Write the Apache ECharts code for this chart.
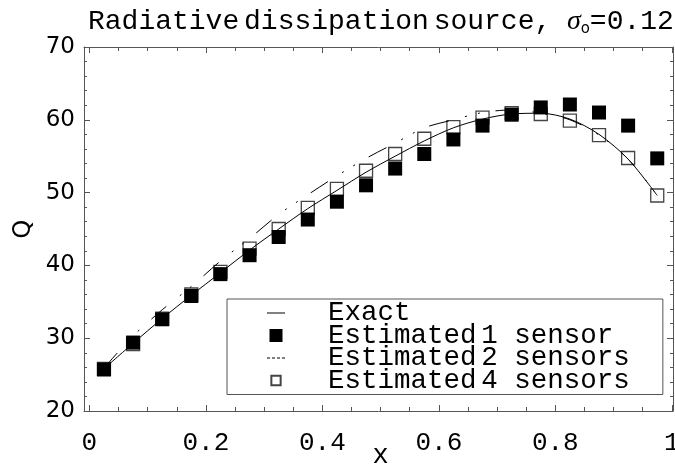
<!DOCTYPE html>
<html><head><meta charset="utf-8">
<script src="https://cdn.jsdelivr.net/npm/echarts@6/dist/echarts.min.js"></script>
<style>html,body{margin:0;padding:0;background:#fff}#c{width:675px;height:469px}</style>
</head><body><div id="c"></div>
<script>
const xs = [0.025,0.075,0.125,0.175,0.225,0.275,0.325,0.375,0.425,0.475,0.525,0.575,0.625,0.675,0.725,0.775,0.825,0.875,0.925,0.975];
const exact = [25.8,29.3,32.7,35.9,39.0,42.1,45.0,47.8,50.3,52.8,55.0,57.1,58.9,60.1,60.8,60.9,60.1,58.0,54.6,49.6];
const est1 = [25.7,29.4,32.6,35.8,38.8,41.4,43.9,46.3,48.75,51.0,53.3,55.3,57.3,59.2,60.7,61.7,62.1,61.0,59.2,54.7];
const est2 = [25.9,30.3,33.9,37.1,40.6,43.7,47.0,49.7,52.3,54.7,56.8,58.9,60.0,61.0,61.35,60.9,60.0,57.9,54.6,49.6];
const est4 = [25.8,29.2,32.7,36.0,39.1,42.3,45.0,47.9,50.5,53.0,55.3,57.4,59.0,60.3,60.9,60.8,59.9,57.9,54.75,49.6];
const xTicks = [0,0.2,0.4,0.6,0.8,1];
const yTicks = [20,30,40,50,60,70];
const names = ['Exact','Estimated 1 sensor','Estimated 2 sensors','Estimated 4 sensors'];

const pairs = a => xs.map((x,i)=>[x,a[i]]);
const MONO = 'Liberation Mono';
const AX = '#555';

const chart = echarts.init(document.getElementById('c'), null, {renderer:'canvas'});
const frameAxis = (pos) => ({
  type:'value', gridIndex:0, position:pos, min:0, max:1,
  axisLine:{show:true,onZero:false,lineStyle:{color:AX,width:1}},
  axisTick:{show:false}, axisLabel:{show:false}, splitLine:{show:false}
});
const tickX = (pos, labels) => ({
  type:'value', gridIndex:1, position:pos, min:0, max:1, interval:0.2,
  axisLine:{show:false,onZero:false},
  axisTick:{show:true,inside:true,length:6,lineStyle:{color:AX}},
  minorTick:{show:true,splitNumber:4,length:4,lineStyle:{color:AX}},
  axisLabel:{show:labels,margin:19,fontFamily:MONO,fontSize:26,color:'#000',
    formatter:v=>xTicks.includes(+v.toFixed(2))?String(+v.toFixed(2)):''},
  splitLine:{show:false},
  name: labels?'x':'', nameLocation:'middle', nameGap:31, nameMoveOverlap:false,
  nameTextStyle:{fontFamily:MONO,fontSize:27,color:'#000'}
});
const yAx = (pos, labels) => ({
  type:'value', gridIndex:0, position:pos, min:20, max:70, interval:10,
  axisLine:{show:true,onZero:false,lineStyle:{color:AX,width:1}},
  axisTick:{show:true,inside:true,length:6,lineStyle:{color:AX}},
  minorTick:{show:true,splitNumber:5,length:3,lineStyle:{color:AX}},
  axisLabel:{show:labels,margin:9,fontFamily:'DejaVu Sans',fontSize:23,color:'#000',
    formatter:v=>yTicks.includes(v)?String(v):''},
  splitLine:{show:false},
  name: labels?'Q':'', nameLocation:'middle', nameGap:48, nameRotate:90, nameMoveOverlap:false,
  nameTextStyle:{fontFamily:'DejaVu Sans',fontSize:24,color:'#000'}
});

function legendFmt(name){
  const m = name.match(/^Estimated (.*)$/);
  if (m) return '{g| }{t|Estimated}{s| }{t|' + m[1] + '}';
  return '{g| }{t|' + name + '}';
}

chart.setOption({
  animation:false,
  backgroundColor:'#fff',
  title:{
    left:83, top:2,
    text:'{a|Radiative}{s| }{a|dissipation}{s| }{a|source,}{w| }{g|σ}{sub|o}{a|=0.12}',
    textStyle:{
      fontWeight:'normal',
      rich:{
        a:{fontFamily:MONO,fontSize:28,fontWeight:'normal',color:'#000',lineHeight:30},
        s:{fontFamily:MONO,fontSize:8,fontWeight:'normal',lineHeight:30},
        w:{fontFamily:MONO,fontSize:26,fontWeight:'normal',lineHeight:30},
        g:{fontFamily:'Liberation Serif',fontStyle:'italic',fontWeight:'normal',fontSize:28,color:'#000',lineHeight:30},
        sub:{fontFamily:'DejaVu Sans',fontSize:15,fontWeight:'normal',color:'#000',lineHeight:30,verticalAlign:'bottom',padding:[10,0,0,0]}
      }
    }
  },
  grid:[
    {left:84,right:2,top:47,bottom:58,outerBoundsMode:'none',containLabel:false},
    {left:89.4,right:3.2,top:47,bottom:58,outerBoundsMode:'none',containLabel:false}
  ],
  xAxis:[frameAxis('bottom'), frameAxis('top'), tickX('bottom',true), tickX('top',false)],
  yAxis:[yAx('left',true), yAx('right',false),
    {type:'value',gridIndex:1,min:20,max:70,show:false}],
  legend:{
    orient:'vertical', left:227, top:299,
    padding:[0,33,0,40], itemGap:-5.5,
    itemWidth:18, itemHeight:13,
    backgroundColor:'#fff', borderColor:AX, borderWidth:1,
    formatter:legendFmt,
    textStyle:{color:'#000',fontFamily:MONO,fontSize:27.5,lineHeight:21,
      rich:{
        g:{width:38,fontSize:10},
        t:{fontFamily:MONO,fontSize:27.5,color:'#000',lineHeight:21},
        s:{fontFamily:MONO,fontSize:8,lineHeight:21}
      }},
    data:[
      {name:names[0], icon:'path://M0,0h18v1h-18z', itemStyle:{color:'#000',borderWidth:0}},
      {name:names[1], icon:'path://M0,0h13v13h-13z'},
      {name:names[2], icon:'path://M0,0h3v1h-3zM5,0h3v1h-3zM10,0h3v1h-3zM15,0h3v1h-3z', itemStyle:{color:'#000',borderWidth:0}},
      {name:names[3], icon:'path://M0,0M14,14M2,2h10v10h-10z'}
    ]
  },
  series:[
    {name:names[0], type:'line', xAxisIndex:2, yAxisIndex:2, data:pairs(exact),
      smooth:0.3, showSymbol:false, symbol:'none', z:3,
      lineStyle:{color:'#000',width:1}, itemStyle:{color:'#000'}},
    {name:names[1], type:'scatter', xAxisIndex:2, yAxisIndex:2, data:pairs(est1),
      symbol:'rect', symbolSize:14, z:5, itemStyle:{color:'#000',opacity:1}},
    {name:names[2], type:'line', xAxisIndex:2, yAxisIndex:2, data:pairs(est2),
      smooth:0.3, showSymbol:false, symbol:'none', z:3,
      lineStyle:{color:'#000',width:1,type:[20,17,2,11,2,16]}, itemStyle:{color:'#000'}},
    {name:names[3], type:'scatter', xAxisIndex:2, yAxisIndex:2, data:pairs(est4),
      symbol:'rect', symbolSize:13, z:2,
      itemStyle:{color:'rgba(255,255,255,0)',borderColor:'#444',borderWidth:1.3,opacity:1}}
  ]
});
</script></body></html>
